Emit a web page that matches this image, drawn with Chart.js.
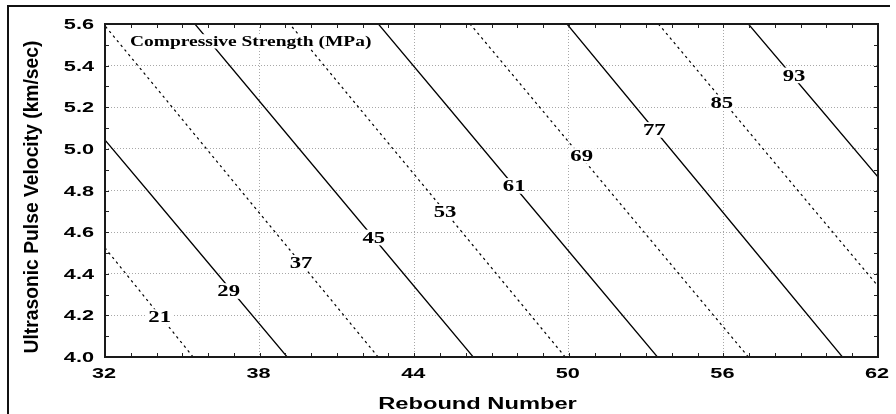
<!DOCTYPE html>
<html>
<head>
<meta charset="utf-8">
<script src="https://cdn.jsdelivr.net/npm/chart.js@4.4.1/dist/chart.umd.min.js"></script>
<style>
  html, body { margin: 0; padding: 0; background: #fff; }
  #wrap { position: relative; width: 896px; height: 414px; overflow: hidden; }
  #frame { position: absolute; left: 7px; top: 5px; width: 883px; height: 440px;
           border-top: 2px solid #111; border-left: 2px solid #111; box-sizing: border-box; pointer-events: none; }
  canvas { position: absolute; left: 0; top: 0; }
</style>
</head>
<body>
<div id="wrap">
  <canvas id="c" width="896" height="414"></canvas>
  <div id="frame"></div>
</div>
<script>
// ---- data ----
const velocityLevels = [4.0, 4.4, 4.8, 5.2, 5.6];           // km/sec
const strengthLevels = [21, 29, 37, 45, 53, 61, 69, 77, 85, 93]; // MPa
// rebound number where each contour crosses the velocity levels
const rebound21 = [35.42, 32.81, 30.20, 27.58, 24.97];
const rebound29 = [39.07, 36.36, 33.65, 30.93, 28.22];
const rebound37 = [42.60, 39.94, 37.27, 34.61, 31.94];
const rebound45 = [46.29, 43.59, 40.89, 38.19, 35.49];
const rebound53 = [49.86, 47.19, 44.52, 41.84, 39.17];
const rebound61 = [53.44, 50.73, 48.02, 45.32, 42.61];
const rebound69 = [56.97, 54.27, 51.57, 48.87, 46.17];
const rebound77 = [60.62, 57.95, 55.28, 52.60, 49.93];
const rebound85 = [64.30, 61.60, 58.89, 56.19, 53.48];
const rebound93 = [67.91, 65.18, 62.44, 59.71, 56.97];
// contour label positions
const labelRebound  = [34.12, 36.80, 39.61, 42.43, 45.20, 47.88, 50.50, 53.32, 55.94, 58.74];
const labelVelocity = [4.192, 4.317, 4.452, 4.574, 4.697, 4.822, 4.966, 5.091, 5.223, 5.353];
// tick labels
const xTickLabels = ['32', '38', '44', '50', '56', '62'];
const yTickLabels = ['4.0', '4.2', '4.4', '4.6', '4.8', '5.0', '5.2', '5.4', '5.6'];
const xTitle = 'Rebound Number';
const yTitle = 'Ultrasonic Pulse Velocity (km/sec)';
const legendTitle = 'Compressive Strength (MPa)';

const contourRebound = [rebound21, rebound29, rebound37, rebound45, rebound53,
                        rebound61, rebound69, rebound77, rebound85, rebound93];

const datasets = contourRebound.map((arr, i) => ({
  label: strengthLevels[i] + ' MPa',
  data: arr.map((rn, k) => ({ x: rn, y: velocityLevels[k] })),
  showLine: true,
  borderColor: '#000',
  borderWidth: i % 2 === 0 ? 1.2 : 1.25,
  borderDash: i % 2 === 0 ? [2.5, 3.5] : [],
  pointRadius: 0,
  fill: false,
  tension: 0
}));

function drawText(ctx, text, x, y, font, sx, align, bg, capH) {
  ctx.save();
  ctx.translate(x, y);
  ctx.scale(sx, 1);
  ctx.font = font;
  ctx.textAlign = align;
  ctx.textBaseline = 'alphabetic';
  if (bg) {
    const w = ctx.measureText(text).width;
    let x0 = align === 'center' ? -w / 2 : (align === 'right' ? -w : 0);
    ctx.fillStyle = '#fff';
    ctx.fillRect(x0 - 1.5, -capH - 2.5, w + 3, capH + 5);
  }
  ctx.fillStyle = '#000';
  ctx.fillText(text, 0, 0);
  ctx.restore();
}

const decor = {
  id: 'decor',
  afterDatasetsDraw(chart) {
    const { ctx, chartArea: a, scales: { x, y } } = chart;
    ctx.save();
    // contour labels
    strengthLevels.forEach((s, i) => {
      const px = x.getPixelForValue(labelRebound[i]);
      const py = y.getPixelForValue(labelVelocity[i]);
      const cap = 10.6;
      drawText(ctx, String(s), px, py + cap / 2, 'bold 16px "Liberation Serif"', 1.42, 'center', true, cap);
    });
    // legend title box
    drawText(ctx, legendTitle, a.left + 25, a.top + 22, 'bold 14px "Liberation Serif"', 1.39, 'left', true, 9.3);

    // minor/major ticks (inward) on all four sides
    ctx.strokeStyle = '#222';
    ctx.lineWidth = 1;
    ctx.beginPath();
    for (let v = 32; v <= 62; v += 1) {
      const px = Math.round(x.getPixelForValue(v)) + 0.5;
      ctx.moveTo(px, a.bottom); ctx.lineTo(px, a.bottom - 4);
      ctx.moveTo(px, a.top); ctx.lineTo(px, a.top + 4);
    }
    for (let k = 0; k <= 16; k++) {
      const v = 4.0 + k * 0.1;
      const py = Math.round(y.getPixelForValue(v)) + 0.5;
      ctx.moveTo(a.left, py); ctx.lineTo(a.left + 4, py);
      ctx.moveTo(a.right, py); ctx.lineTo(a.right - 4, py);
    }
    ctx.stroke();
    // plot frame
    ctx.lineWidth = 2;
    ctx.strokeStyle = '#1a1a1a';
    ctx.strokeRect(a.left, a.top, a.right - a.left, a.bottom - a.top);

    // tick labels
    const sansFont = 'bold 14px "Liberation Sans"';
    yTickLabels.forEach(t => {
      const py = y.getPixelForValue(parseFloat(t));
      drawText(ctx, t, a.left - 11, py + 5, sansFont, 1.55, 'right', false, 0);
    });
    xTickLabels.forEach(t => {
      const px = x.getPixelForValue(parseFloat(t));
      drawText(ctx, t, px - 1, a.bottom + 20.5, sansFont, 1.55, 'center', false, 0);
    });
    // axis titles
    drawText(ctx, xTitle, (a.left + a.right) / 2 - 14, 409, 'bold 16px "Liberation Sans"', 1.48, 'center', false, 0);
    ctx.save();
    ctx.translate(38, 197);
    ctx.rotate(-Math.PI / 2);
    ctx.font = 'bold 19.3px "Liberation Sans"';
    ctx.textAlign = 'center';
    ctx.textBaseline = 'alphabetic';
    ctx.fillStyle = '#000';
    ctx.fillText(yTitle, 0, 0);
    ctx.restore();
    ctx.restore();
  }
};

new Chart(document.getElementById('c'), {
  type: 'scatter',
  data: { datasets },
  options: {
    responsive: false,
    animation: false,
    devicePixelRatio: 1,
    layout: { padding: { left: 105, right: 18, top: 24, bottom: 57 } },
    plugins: { legend: { display: false }, tooltip: { enabled: false } },
    scales: {
      x: {
        type: 'linear', min: 32, max: 62,
        ticks: { display: false, stepSize: 6 },
        grid: { color: '#a8a8a8', lineWidth: 1, drawTicks: false },
        border: { display: false, dash: [1, 2] }
      },
      y: {
        type: 'linear', min: 4.0, max: 5.6,
        ticks: { display: false, stepSize: 0.2 },
        grid: { color: '#a8a8a8', lineWidth: 1, drawTicks: false },
        border: { display: false, dash: [1, 2] }
      }
    }
  },
  plugins: [decor]
});
</script>
</body>
</html>
